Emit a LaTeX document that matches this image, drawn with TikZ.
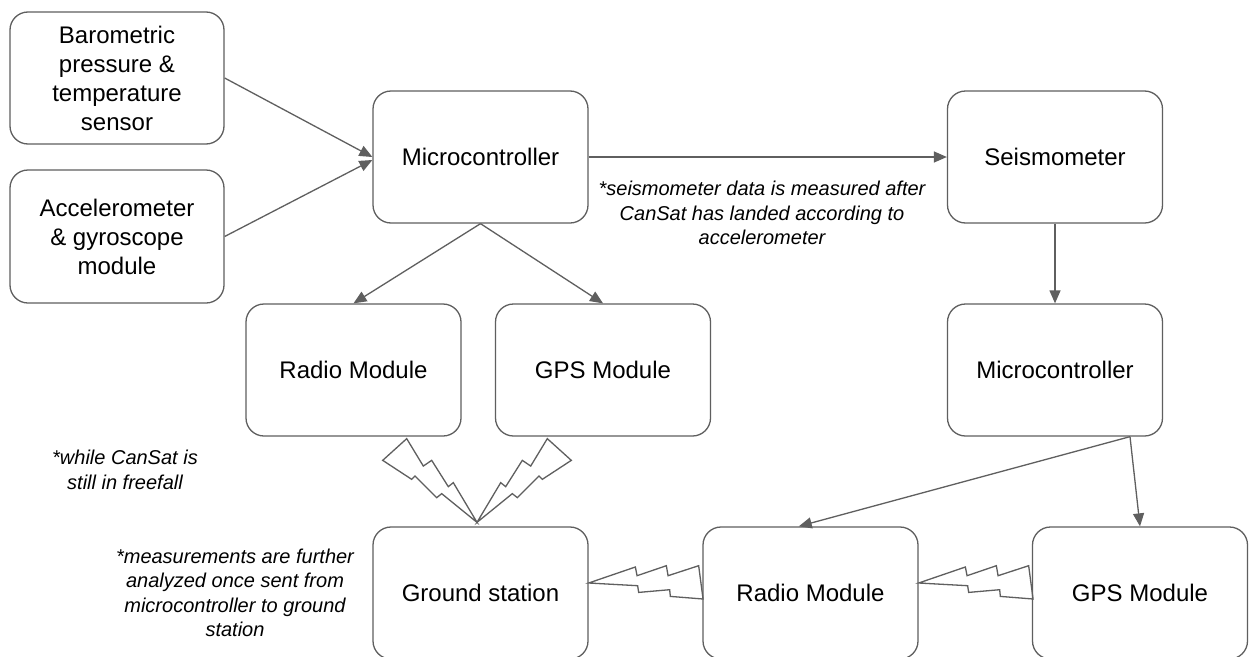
\documentclass[tikz,border=0pt]{standalone}
\usepackage{fontspec}
\setmainfont{Liberation Sans}
\usepackage{tikz}
\usetikzlibrary{calc,positioning}
\usetikzlibrary{arrows.meta}
\tikzset{>={Triangle[length=13pt,width=11pt]}}
\definecolor{linegray}{RGB}{95,95,95}

\tikzset{
  bolt/.style={draw=linegray, line width=1.3pt, line join=miter},
  hbolt/.pic={
    \draw[bolt] (0,0) -- (46.7,-16) -- (48.4,-7.3) -- (77.7,-17.3) -- (79.4,-7.3)
      -- (110,-17.3) -- (114.4,16) -- (81.7,13.4) -- (81,6.7) -- (50,9.4) -- (49,2.7) -- cycle;
  },
  vbolt/.pic={
    \draw[bolt] (0,0) -- (-23.7,-39.7) -- (-28.7,-35.7) -- (-45.3,-62) -- (-53.7,-56.3)
      -- (-70.3,-83.7) -- (-94.3,-62) -- (-65.3,-43) -- (-62,-46.3) -- (-40.3,-24.7) -- (-35.3,-28.7) -- cycle;
  }
}

\begin{document}
\begin{tikzpicture}[x=1pt,y=-1pt]
      \tikzstyle{bnode} = [draw=linegray, line width=1.3pt, rectangle, rounded corners=18pt,
        minimum width=215pt, minimum height=132pt, inner sep=2pt, align=center,
        font=\fontsize{24}{29}\selectfont]
      \tikzstyle{notenode} = [align=center, inner sep=0pt, font=\fontsize{20}{24.5}\selectfont\itshape]
      \tikzstyle{link} = [->, draw=linegray, line width=1.3pt]

      \useasboundingbox (0,0) rectangle (1249,656);
      \fill[white] (0,0) rectangle (1249,656);

      \node[bnode, minimum width=214pt] (baro) at (117,78) {Barometric\\pressure \&\\temperature\\sensor};
      \node[bnode, minimum width=214pt, minimum height=133pt] (accel) at (117,236.5) {Accelerometer\\\& gyroscope\\module};
      \node[bnode] (mcu) at (480.5,157) {Microcontroller};
      \node[bnode] (seis) at (1055,157) {Seismometer};

      \node[bnode] (radio) at (353.5,370) {Radio Module};
      \node[bnode] (gps) at (603,370) {GPS Module};
      \node[bnode] (mcutwo) at (1055,370) {Microcontroller};

      \node[bnode] (ground) at (480.5,593) {Ground station};
      \node[bnode] (radiotwo) at (810.5,593) {Radio Module};
      \node[bnode] (gpstwo) at (1140,593) {GPS Module};

      \draw[link] (baro.east) to (mcu.west);
      \draw[link] (accel.east) to ($(mcu.west)+(0,3)$);
      \draw[link] (mcu.south) to (radio.north);
      \draw[link] (mcu.south) to (gps.north);
      \draw[link] (mcu.east) to (seis.west);
      \draw[link] (seis.south) to (mcutwo.north);
      \coordinate (fork) at ($(mcutwo.south)+(75,0)$);
      \draw[link] (fork) to (radiotwo.100);
      \draw[link] (fork) to (gpstwo.north);

      % radio links
      \pic at ($(ground.north)+(-3.5,-4)$) {vbolt};
      \pic[xscale=-1] at ($(ground.north)+(-3.5,-4)$) {vbolt};
      \pic at ($(ground.east)+(0,-10)$) {hbolt};
      \pic at ($(radiotwo.east)+(0,-10)$) {hbolt};

      \node[notenode] (seisnote) at (762,213) {*seismometer data is measured after\\CanSat has landed according to\\accelerometer};
      \node[notenode] (fallnote) at (125,470) {*while CanSat is\\still in freefall};
      \node[notenode] (groundnote) at (235,593) {*measurements are further\\analyzed once sent from\\microcontroller to ground\\station};
    \end{tikzpicture}
\end{document}
